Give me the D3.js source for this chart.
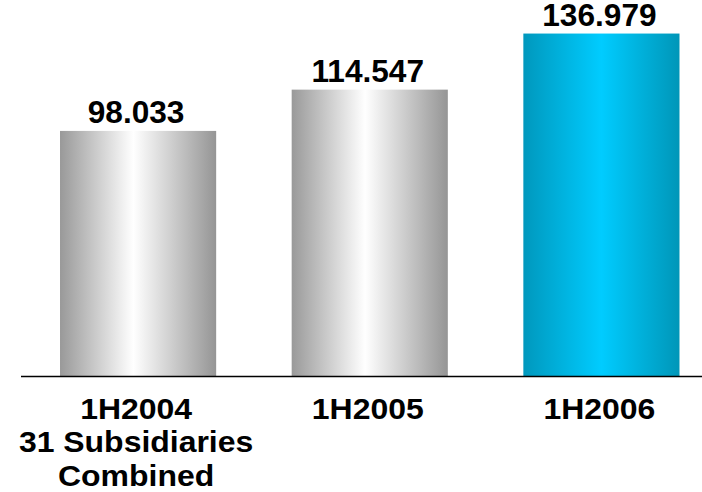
<!DOCTYPE html>
<html>
<head>
<meta charset="utf-8">
<script src="https://cdn.jsdelivr.net/npm/d3@7"></script>
<style>
  html, body { margin: 0; padding: 0; background: #fff; }
  svg { display: block; }
  text { font-family: "Liberation Sans", Arial, Helvetica, sans-serif; font-weight: bold; fill: #000; }
</style>
</head>
<body>
<svg id="chart" width="702" height="492"></svg>
<script>
// Half-year revenue figures
const categories = ["1H2004", "1H2005", "1H2006"];
const subLabels = [["31 Subsidiaries", "Combined"], [], []];
const values = [98.033, 114.547, 136.979];
const valueLabels = ["98.033", "114.547", "136.979"];
const barStyles = ["grey", "grey", "blue"];

const W = 702, H = 492;
const baseY = 376;

const svg = d3.select("#chart");

// Cylindrical shading for the bars
const defs = svg.append("defs");
const grey = defs.append("linearGradient").attr("id", "grad-grey")
  .attr("x1", "0%").attr("x2", "100%").attr("y1", "0%").attr("y2", "0%");
grey.append("stop").attr("offset", "0%").attr("stop-color", "#999999");
grey.append("stop").attr("offset", "47%").attr("stop-color", "#ffffff");
grey.append("stop").attr("offset", "100%").attr("stop-color", "#959595");

const blue = defs.append("linearGradient").attr("id", "grad-blue")
  .attr("x1", "0%").attr("x2", "100%").attr("y1", "0%").attr("y2", "0%");
blue.append("stop").attr("offset", "0%").attr("stop-color", "#0098bd");
blue.append("stop").attr("offset", "50%").attr("stop-color", "#00ccff");
blue.append("stop").attr("offset", "100%").attr("stop-color", "#0096b8");

const x = d3.scaleBand()
  .domain(categories)
  .range([22.25, 717.25])
  .paddingInner(0.326)
  .paddingOuter(0.163);

const y = d3.scaleLinear()
  .domain([0, 150])
  .range([baseY, baseY - 375]);

const data = categories.map((c, i) => ({
  cat: c, value: values[i], label: valueLabels[i], style: barStyles[i], sub: subLabels[i]
}));

const cx = d => x(d.cat) + x.bandwidth() / 2 - 2;

// Bars
svg.append("g").selectAll("rect")
  .data(data)
  .join("rect")
  .attr("x", d => x(d.cat))
  .attr("width", x.bandwidth())
  .attr("y", d => y(d.value))
  .attr("height", d => y(0) - y(d.value))
  .attr("fill", d => `url(#grad-${d.style})`);

// Value labels above bars
svg.append("g").selectAll("g")
  .data(data)
  .join("g")
  .attr("transform", d => `translate(${cx(d)},${y(d.value) - 8}) scale(1.02,1)`)
  .append("text")
  .attr("text-anchor", "middle")
  .attr("font-size", 31)
  .text(d => d.label);

// Baseline
svg.append("line")
  .attr("x1", 21).attr("x2", W)
  .attr("y1", baseY + 0.5).attr("y2", baseY + 0.5)
  .attr("stroke", "#000").attr("stroke-width", 1.5);

// Category labels
const cat = svg.append("g").selectAll("g")
  .data(data)
  .join("g")
  .attr("transform", d => `translate(${cx(d)},419) scale(1.065,1)`)
  .append("text")
  .attr("text-anchor", "middle")
  .attr("font-size", 30);

cat.append("tspan").attr("x", 0).text(d => d.cat);
cat.each(function(d) {
  const t = d3.select(this);
  d.sub.forEach(s => {
    t.append("tspan")
      .attr("x", 0)
      .attr("dy", 33.5)
      .text(s);
  });
});
</script>
</body>
</html>
